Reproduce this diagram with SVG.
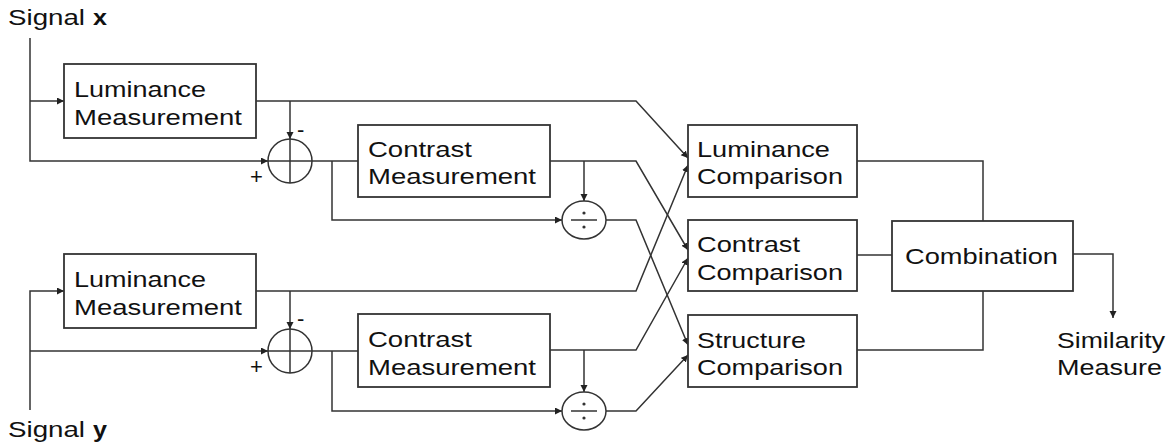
<svg xmlns="http://www.w3.org/2000/svg" width="1170" height="448" viewBox="0 0 1170 448">
<defs>
<marker id="ah" markerUnits="userSpaceOnUse" markerWidth="10" markerHeight="10" refX="7" refY="3.5" orient="auto"><path d="M0,0 L7,3.5 L0,7 Z" fill="#222"/></marker>
<style>
.box{fill:#fff;stroke:#333;stroke-width:1.8}
.ln{fill:none;stroke:#333;stroke-width:1.5}
.t{font-family:"Liberation Sans",Arial,sans-serif;font-size:22px;fill:#111}
.op{fill:#fff;stroke:#333;stroke-width:1.5}
</style>
</defs>
<g id="connectors" class="ln">
<path d="M30,38 V161 H268" marker-end="url(#ah)"/>
<path d="M30,101 H64" marker-end="url(#ah)"/>
<path d="M256,101 H636 L688,158" marker-end="url(#ah)"/>
<path d="M290,101 V139" marker-end="url(#ah)"/>
<path d="M312,161 H358"/>
<path d="M332,161 V220 H562" marker-end="url(#ah)"/>
<path d="M550,161 H636 L688,250" marker-end="url(#ah)"/>
<path d="M584,161 V201" marker-end="url(#ah)"/>
<path d="M606,220 H636 L688,345" marker-end="url(#ah)"/>
<path d="M30,410 V291 H64" marker-end="url(#ah)"/>
<path d="M30,351 H268" marker-end="url(#ah)"/>
<path d="M256,291 H636 L688,165" marker-end="url(#ah)"/>
<path d="M290,291 V329" marker-end="url(#ah)"/>
<path d="M312,351 H358"/>
<path d="M332,351 V411 H562" marker-end="url(#ah)"/>
<path d="M550,350 H636 L688,258" marker-end="url(#ah)"/>
<path d="M584,350 V392" marker-end="url(#ah)"/>
<path d="M606,411 H636 L688,355" marker-end="url(#ah)"/>
<path d="M857,161 H983 V221"/>
<path d="M857,255 H892"/>
<path d="M857,350 H983 V291"/>
<path d="M1073,254 H1113 V318" marker-end="url(#ah)"/>
</g>
<g id="signal-x"><text class="t" y="25"><tspan x="8" textLength="77" lengthAdjust="spacingAndGlyphs">Signal</tspan><tspan x="93" font-weight="bold" textLength="14" lengthAdjust="spacingAndGlyphs">x</tspan></text></g>
<g id="signal-y"><text class="t" y="437"><tspan x="8" textLength="77" lengthAdjust="spacingAndGlyphs">Signal</tspan><tspan x="93" font-weight="bold" textLength="14" lengthAdjust="spacingAndGlyphs">y</tspan></text></g>
<g id="lum-meas-x">
<rect class="box" x="64" y="64" width="192" height="74"/>
<text class="t" x="74" y="97" textLength="132" lengthAdjust="spacingAndGlyphs">Luminance</text>
<text class="t" x="74" y="125" textLength="168" lengthAdjust="spacingAndGlyphs">Measurement</text>
</g>
<g id="sum-x">
<circle class="op" cx="290" cy="161" r="22"/>
<path class="ln" d="M290,139 V183 M268,161 H312"/>
<text class="t" x="297" y="137" font-size="20">-</text>
<text class="t" x="250" y="184" font-size="20">+</text>
</g>
<g id="contrast-meas-x">
<rect class="box" x="358" y="125" width="192" height="72"/>
<text class="t" x="368" y="157" textLength="104" lengthAdjust="spacingAndGlyphs">Contrast</text>
<text class="t" x="368" y="184" textLength="168" lengthAdjust="spacingAndGlyphs">Measurement</text>
</g>
<g id="div-x">
<ellipse class="op" cx="584" cy="220" rx="22" ry="19"/>
<path class="ln" d="M571,220 H597"/>
<circle cx="584" cy="213" r="1.6" fill="#333"/><circle cx="584" cy="227" r="1.6" fill="#333"/>
</g>
<g id="lum-meas-y">
<rect class="box" x="64" y="254" width="192" height="74"/>
<text class="t" x="74" y="287" textLength="132" lengthAdjust="spacingAndGlyphs">Luminance</text>
<text class="t" x="74" y="315" textLength="168" lengthAdjust="spacingAndGlyphs">Measurement</text>
</g>
<g id="sum-y">
<circle class="op" cx="290" cy="351" r="22"/>
<path class="ln" d="M290,329 V373 M268,351 H312"/>
<text class="t" x="297" y="326" font-size="20">-</text>
<text class="t" x="250" y="374" font-size="20">+</text>
</g>
<g id="contrast-meas-y">
<rect class="box" x="358" y="314" width="192" height="73"/>
<text class="t" x="368" y="347" textLength="104" lengthAdjust="spacingAndGlyphs">Contrast</text>
<text class="t" x="368" y="375" textLength="168" lengthAdjust="spacingAndGlyphs">Measurement</text>
</g>
<g id="div-y">
<ellipse class="op" cx="584" cy="411" rx="22" ry="19"/>
<path class="ln" d="M571,411 H597"/>
<circle cx="584" cy="404" r="1.6" fill="#333"/><circle cx="584" cy="418" r="1.6" fill="#333"/>
</g>
<g id="lum-comp">
<rect class="box" x="688" y="125" width="169" height="72"/>
<text class="t" x="697" y="157" textLength="133" lengthAdjust="spacingAndGlyphs">Luminance</text>
<text class="t" x="697" y="184" textLength="146" lengthAdjust="spacingAndGlyphs">Comparison</text>
</g>
<g id="contrast-comp">
<rect class="box" x="688" y="220" width="169" height="71"/>
<text class="t" x="697" y="252" textLength="103" lengthAdjust="spacingAndGlyphs">Contrast</text>
<text class="t" x="697" y="280" textLength="146" lengthAdjust="spacingAndGlyphs">Comparison</text>
</g>
<g id="structure-comp">
<rect class="box" x="688" y="315" width="169" height="72"/>
<text class="t" x="697" y="348" textLength="109" lengthAdjust="spacingAndGlyphs">Structure</text>
<text class="t" x="697" y="375" textLength="146" lengthAdjust="spacingAndGlyphs">Comparison</text>
</g>
<g id="combination">
<rect class="box" x="892" y="221" width="181" height="70"/>
<text class="t" x="905" y="264" textLength="153" lengthAdjust="spacingAndGlyphs">Combination</text>
</g>
<g id="similarity">
<text class="t" x="1057" y="348" textLength="108" lengthAdjust="spacingAndGlyphs">Similarity</text>
<text class="t" x="1057" y="375" textLength="105" lengthAdjust="spacingAndGlyphs">Measure</text>
</g>
</svg>
